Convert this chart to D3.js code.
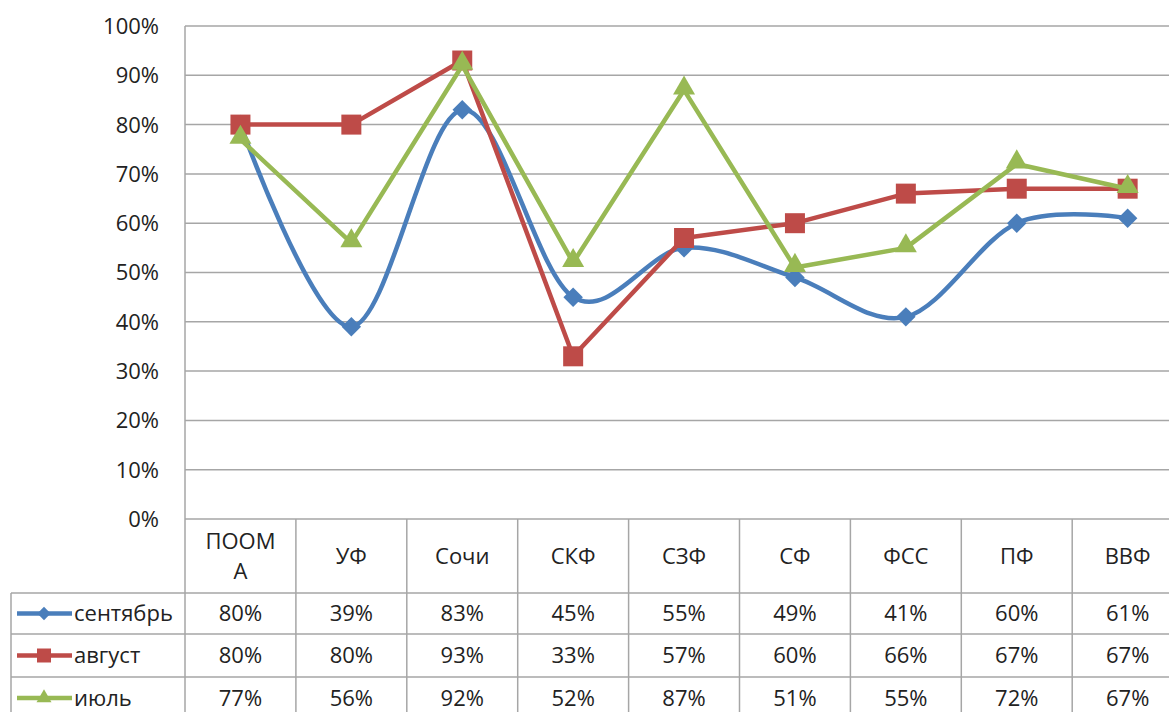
<!DOCTYPE html>
<html><head><meta charset="utf-8">
<script src="https://cdn.jsdelivr.net/npm/d3@7"></script>
<style>
body{margin:0;background:#fff}
svg{display:block}
text{font-family:"Open Sans",sans-serif;fill:#222}
</style>
</head><body>
<svg id="c" width="1169" height="712"></svg>
<script>
const categories=["ПООМА","УФ","Сочи","СКФ","СЗФ","СФ","ФСС","ПФ","ВВФ"];
const september=[80,39,83,45,55,49,41,60,61];
const august=[80,80,93,33,57,60,66,67,67];
const july=[77,56,92,52,87,51,55,72,67];
const seriesNames=["сентябрь","август","июль"];
const yTicks=[0,10,20,30,40,50,60,70,80,90,100];

const series=[
 {name:seriesNames[0],values:september,color:"#4A7EBB",marker:"diamond",smooth:true},
 {name:seriesNames[1],values:august,color:"#BE4B48",marker:"square",smooth:false},
 {name:seriesNames[2],values:july,color:"#98B954",marker:"triangle",smooth:false}
];

const svg=d3.select("#c");
const L=185,R=185+9*110.9,T=26,B=519;
const rowB=[593,634,677,719];
const legendL=11;
const fs=22;
const gridColor="#A6A6A6";

const x=d3.scaleBand().domain(categories).range([L,R]);
const y=d3.scaleLinear().domain([0,100]).range([B,T]);

// gridlines
svg.append("g").selectAll("line").data(yTicks).join("line")
 .attr("x1",L).attr("x2",R).attr("y1",d=>y(d)).attr("y2",d=>y(d))
 .attr("stroke",gridColor).attr("stroke-width",1.5);

// y labels
svg.append("g").selectAll("text").data(yTicks).join("text")
 .attr("x",159).attr("y",d=>y(d)).attr("dy","0.36em").attr("text-anchor","end")
 .attr("font-size",fs).text(d=>d+"%");

// table lines
const tg=svg.append("g").attr("stroke",gridColor).attr("stroke-width",1.5);
tg.append("line").attr("x1",L).attr("x2",L).attr("y1",T).attr("y2",rowB[3]);
categories.forEach(c=>{
  const xr=x(c)+x.bandwidth();
  tg.append("line").attr("x1",xr).attr("x2",xr).attr("y1",B).attr("y2",rowB[3]);
});
tg.append("line").attr("x1",legendL).attr("x2",legendL).attr("y1",rowB[0]).attr("y2",rowB[3]);
rowB.slice(0,3).forEach(v=>{
  tg.append("line").attr("x1",legendL).attr("x2",R).attr("y1",v).attr("y2",v);
});

// category labels with wrap
const catG=svg.append("g");
categories.forEach(c=>{
  const cx=x(c)+x.bandwidth()/2;
  const t=catG.append("text").attr("text-anchor","middle").attr("font-size",fs).attr("x",cx);
  // wrap by characters to max width
  const maxW=80;
  const lines=[];let cur="";
  const probe=catG.append("text").attr("font-size",fs);
  for(const ch of c){
    probe.text(cur+ch);
    if(probe.node().getComputedTextLength()>maxW && cur){lines.push(cur);cur=ch;}else cur+=ch;
  }
  lines.push(cur);probe.remove();
  const lh=30, cy=(B+rowB[0])/2;
  lines.forEach((ln,i)=>{
    t.append("tspan").attr("x",cx).attr("y",cy+(i-(lines.length-1)/2)*lh).attr("dy","0.36em").text(ln);
  });
});

// symbols
function sym(type,size){
  if(type==="diamond") return d3.symbol().type(d3.symbolDiamond2).size(size*size*0.5)();
  if(type==="square") return d3.symbol().type(d3.symbolSquare).size(size*size)();
  return d3.symbol().type(d3.symbolTriangle).size(size*size*0.433)();
}
const mSize={diamond:22,square:20,triangle:22};

// lines & markers
series.forEach(s=>{
  const line=d3.line().x((d,i)=>x(categories[i])+x.bandwidth()/2).y(d=>y(d))
    .curve(s.smooth?d3.curveCardinal.tension(0):d3.curveLinear);
  svg.append("path").datum(s.values).attr("d",line).attr("fill","none")
    .attr("stroke",s.color).attr("stroke-width",4.5).attr("stroke-linejoin","round");
  svg.append("g").selectAll("path").data(s.values).join("path")
    .attr("transform",(d,i)=>{
      const dy=s.marker==="triangle"?-2:0;
      return `translate(${x(categories[i])+x.bandwidth()/2},${y(d)+dy})`;})
    .attr("d",sym(s.marker,mSize[s.marker])).attr("fill",s.color);
});

// table values and legend
series.forEach((s,r)=>{
  const cy=(rowB[r]+rowB[r+1])/2;
  const g=svg.append("g");
  g.append("line").attr("x1",17).attr("x2",72).attr("y1",cy).attr("y2",cy)
    .attr("stroke",s.color).attr("stroke-width",4.5);
  g.append("path").attr("transform",`translate(44,${cy})`)
    .attr("d",sym(s.marker,s.marker==="square"?14:15)).attr("fill",s.color);
  g.append("text").attr("x",74).attr("y",cy).attr("dy","0.36em").attr("font-size",fs).text(s.name);
  s.values.forEach((v,i)=>{
    g.append("text").attr("x",x(categories[i])+x.bandwidth()/2).attr("y",cy).attr("dy","0.36em")
      .attr("text-anchor","middle").attr("font-size",fs).text(v+"%");
  });
});
</script>
</body></html>
